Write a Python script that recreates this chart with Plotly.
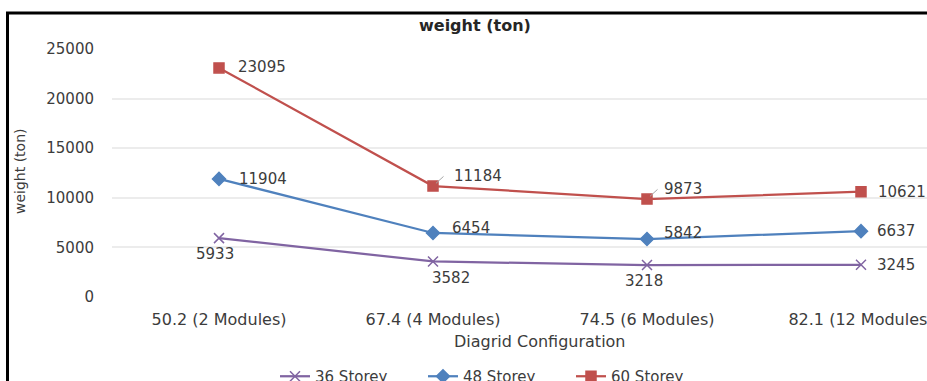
import plotly.graph_objects as go

# Chart data
categories = ["50.2 (2 Modules)", "67.4 (4 Modules)", "74.5 (6 Modules)", "82.1 (12 Modules)"]
storey_36 = [5933, 3582, 3218, 3245]
storey_48 = [11904, 6454, 5842, 6637]
storey_60 = [23095, 11184, 9873, 10621]
y_ticks = [0, 5000, 10000, 15000, 20000, 25000]

FONT = "DejaVu Sans"
TXT = "#3c3c3c"

W, H = 927, 381
L, R, T, B = 112, 0, 49, 84
PW, PH = W - L - R, H - T - B

series = [
    dict(name="36 Storey", y=storey_36, color="#8064A2", symbol="x-thin", size=10,
         # (xshift, yshift, xanchor) for each value label
         labels=[(-4, -16, "center"), (18, -17, "center"), (-3, -16, "center"), (14, 0, "left")]),
    dict(name="48 Storey", y=storey_48, color="#4F81BD", symbol="diamond", size=10,
         labels=[(18, 0, "left"), (17, 5, "left"), (15, 6, "left"), (14, 0, "left")]),
    dict(name="60 Storey", y=storey_60, color="#C0504D", symbol="square", size=10,
         labels=[(17, 1, "left"), (19, 10, "left"), (15, 10, "left"), (15, 0, "left")]),
]

fig = go.Figure()
annotations = []
for s in series:
    fig.add_trace(go.Scatter(
        x=list(range(len(categories))), y=s["y"], name=s["name"], mode="lines+markers",
        line=dict(color=s["color"], width=2.25),
        marker=dict(symbol=s["symbol"], size=s["size"], color=s["color"],
                    line=dict(color=s["color"], width=1.5)),
    ))
    for i, (v, (dx, dy, anc)) in enumerate(zip(s["y"], s["labels"])):
        annotations.append(dict(
            x=i, y=v, xref="x", yref="y", text=str(v), showarrow=False,
            xanchor=anc, yanchor="middle", xshift=dx, yshift=dy,
            font=dict(family=FONT, size=15, color=TXT),
        ))

# leader lines for the two labels lifted off their markers
for i, v in [(1, storey_60[1]), (2, storey_60[2])]:
    annotations.append(dict(
        x=i, y=v, xref="x", yref="y", text="", showarrow=True, arrowhead=0,
        arrowwidth=1, arrowcolor="#a6a6a6", ax=12, ay=-11, standoff=4,
    ))

def px_x(p):
    return (p - L) / PW

def px_y(p):
    return (H - B - p) / PH

annotations += [
    dict(text="weight (ton)", x=px_x(475), y=px_y(26), xref="paper", yref="paper",
         showarrow=False, xanchor="center", yanchor="middle",
         font=dict(family=FONT, size=16, color="#262626", weight="bold")),
    dict(text="Diagrid Configuration", x=px_x(540), y=px_y(341), xref="paper", yref="paper",
         showarrow=False, xanchor="center", yanchor="middle",
         font=dict(family=FONT, size=16, color=TXT)),
    dict(text="weight (ton)", x=px_x(20), y=px_y(171), xref="paper", yref="paper",
         showarrow=False, xanchor="center", yanchor="middle", textangle=-90,
         font=dict(family=FONT, size=14, color=TXT)),
]

fig.update_layout(
    width=W, height=H,
    margin=dict(l=L, r=R, t=T, b=B, pad=0, autoexpand=False),
    paper_bgcolor="white", plot_bgcolor="white",
    font=dict(family=FONT, size=15, color=TXT),
    showlegend=True,
    legend=dict(orientation="h", x=px_x(275), y=px_y(360), xanchor="left", yanchor="top",
                entrywidth=103, entrywidthmode="pixels", bgcolor="rgba(0,0,0,0)",
                font=dict(family=FONT, size=15, color=TXT)),
    xaxis=dict(range=[-0.5, -0.5 + PW / 214.0], tickmode="array",
               tickvals=list(range(len(categories))), ticktext=categories,
               showgrid=False, zeroline=False, showline=False, automargin=False,
               ticks="outside", ticklen=8, tickcolor="rgba(0,0,0,0)",
               ticklabeloverflow="allow",
               tickfont=dict(family=FONT, size=16, color=TXT)),
    yaxis=dict(range=[0, 25000], tickmode="array", tickvals=y_ticks,
               ticktext=[str(t) for t in y_ticks], automargin=False,
               showgrid=True, gridcolor="#ececec", gridwidth=1.5, zeroline=False,
               showline=False, ticks="outside", ticklen=14, tickcolor="rgba(0,0,0,0)",
               tickfont=dict(family=FONT, size=15, color=TXT)),
    annotations=annotations,
    shapes=[dict(type="rect", xref="paper", yref="paper",
                 x0=px_x(7.5), x1=px_x(1200), y0=px_y(600), y1=px_y(13),
                 line=dict(color="black", width=3), fillcolor="rgba(0,0,0,0)", layer="above")],
)

fig.write_html("out.html")
